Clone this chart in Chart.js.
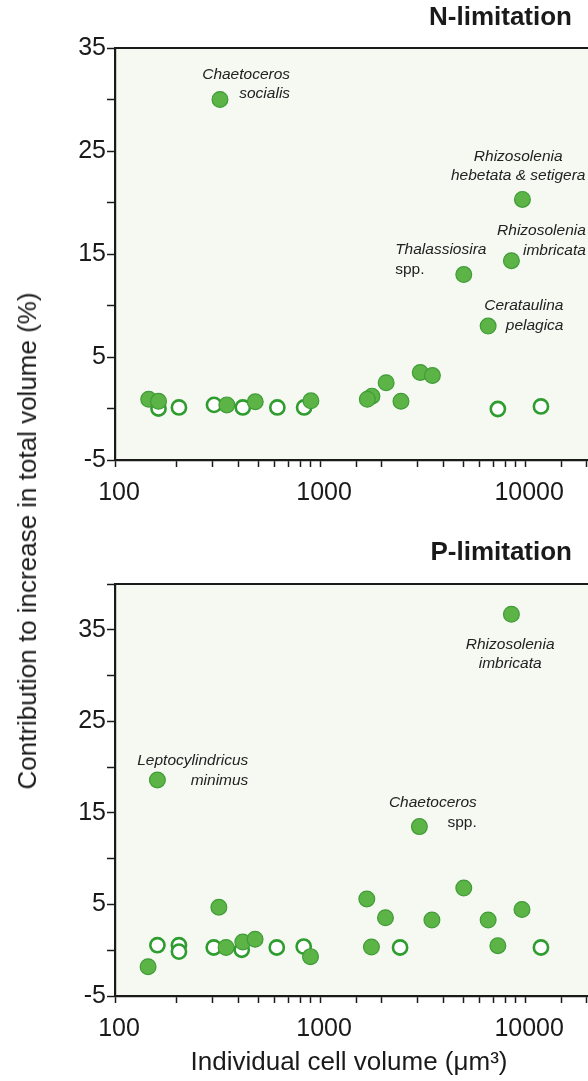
<!DOCTYPE html>
<html><head><meta charset="utf-8">
<script src="https://cdn.jsdelivr.net/npm/chart.js@4.4.1/dist/chart.umd.min.js"></script>
<style>
html,body{margin:0;padding:0;background:#fff;width:588px;height:1081px;overflow:hidden;}
#wrap{position:relative;width:588px;height:1081px;overflow:hidden;}
canvas{position:absolute;left:0;}
#c1{top:0;} #c2{top:540px;}
#ytitle{position:absolute;left:27px;top:541px;transform:translate(-50%,-50%) rotate(-90deg);font:26px "Liberation Sans",Arial,sans-serif;color:#1a1a1a;white-space:nowrap;line-height:1;}
</style></head><body>
<div id="wrap">
<canvas id="c1" width="640" height="520"></canvas>
<canvas id="c2" width="640" height="541"></canvas>
<div id="ytitle">Contribution to increase in total volume (%)</div>
</div>
<script>
// ---------- data ----------
const xTickLabels = ['100', '1000', '10000'];
const yTickLabels = ['-5', '5', '15', '25', '35'];

// N-limitation
const nFilledX = [325, 9700, 8570, 5020, 6600, 3080, 3530, 2100, 1790, 1700, 2480, 146, 163, 351, 483, 902];
const nFilledY = [30.0, 20.3, 14.35, 13.0, 8.0, 3.5, 3.2, 2.5, 1.2, 0.9, 0.7, 0.9, 0.7, 0.35, 0.65, 0.75];
const nOpenX = [163, 205, 304, 420, 619, 836, 7360, 11940];
const nOpenY = [0.0, 0.1, 0.35, 0.1, 0.1, 0.1, -0.05, 0.2];

// P-limitation
const pFilledX = [8570, 161, 3050, 5020, 1690, 321, 9650, 2084, 3510, 6600, 1780, 7360, 145, 348, 420, 482, 898];
const pFilledY = [36.7, 18.6, 13.5, 6.8, 5.6, 4.7, 4.45, 3.55, 3.3, 3.3, 0.35, 0.5, -1.8, 0.3, 0.9, 1.2, -0.7];
const pOpenX = [161, 205, 205, 303, 415, 615, 832, 2455, 11940];
const pOpenY = [0.55, 0.55, -0.15, 0.3, 0.05, 0.3, 0.4, 0.3, 0.3];

// species annotations (anchored in data units)
const nLabels = [
  {x: 714, y: 32.45, align: 'right', lines: [{t: 'Chaetoceros', i: true}, {t: 'socialis', i: true}]},
  {x: 9250, y: 24.45, align: 'center', lines: [{t: 'Rhizosolenia', i: true}, {t: 'hebetata & setigera', i: true}]},
  {x: 19770, y: 17.26, align: 'right', lines: [{t: 'Rhizosolenia', i: true}, {t: 'imbricata', i: true}]},
  {x: 2323, y: 15.39, align: 'left', lines: [{t: 'Thalassiosira', i: true}, {t: 'spp.', i: false}]},
  {x: 15380, y: 9.98, align: 'right', lines: [{t: 'Cerataulina', i: true}, {t: 'pelagica', i: true}]}
];
const pLabels = [
  {x: 8450, y: 33.4, align: 'center', lines: [{t: 'Rhizosolenia', i: true}, {t: 'imbricata', i: true}]},
  {x: 447, y: 20.67, align: 'right', lines: [{t: 'Leptocylindricus', i: true}, {t: 'minimus', i: true}]},
  {x: 5810, y: 16.09, align: 'right', lines: [{t: 'Chaetoceros', i: true}, {t: 'spp.', i: false}]}
];

// ---------- styling ----------
const FAM = '"Liberation Sans", Arial, Helvetica, sans-serif';
const INK = '#1a1a1a';

const panelPlugin = {
  id: 'panel',
  beforeDraw(chart, args, o) {
    const {ctx, chartArea: a} = chart;
    ctx.save();
    ctx.fillStyle = '#f6f9f2';
    ctx.fillRect(a.left, a.top, a.right - a.left, a.bottom - a.top);
    ctx.restore();
  },
  afterDraw(chart, args, o) {
    const {ctx, chartArea: a, scales} = chart;
    const xs = scales.x, ys = scales.y;
    ctx.save();
    ctx.strokeStyle = INK; ctx.lineWidth = 2.2;
    ctx.beginPath(); ctx.moveTo(a.left, a.top); ctx.lineTo(a.right, a.top); ctx.stroke();
    ctx.fillStyle = INK;
    ctx.textBaseline = 'middle';
    ctx.font = 'bold 26px ' + FAM;
    ctx.textAlign = 'right';
    ctx.fillText(o.title, o.titleRight, o.titleY);
    if (o.xTitle) {
      ctx.font = '26px ' + FAM;
      ctx.textAlign = 'center';
      ctx.fillText(o.xTitle, o.xTitleX, o.xTitleY);
    }
    ctx.fillStyle = '#222';
    for (const lab of o.labels) {
      const px = xs.getPixelForValue(lab.x), py = ys.getPixelForValue(lab.y);
      ctx.textAlign = lab.align;
      lab.lines.forEach((ln, k) => {
        ctx.font = (ln.i ? 'italic ' : '') + '15.5px ' + FAM;
        ctx.fillText(ln.t, px, py + k * 19.5);
      });
    }
    ctx.restore();
  }
};

function pts(xa, ya) { return xa.map((x, k) => ({x: x, y: ya[k]})); }

function makeChart(id, filled, open, yMax, padTop, xH, pluginOpts) {
  return new Chart(document.getElementById(id), {
    type: 'scatter',
    data: {
      datasets: [
        {data: filled, order: 1, pointRadius: 7.9, backgroundColor: '#5cb446', borderColor: '#3f9c37', borderWidth: 1.2},
        {data: open, order: 2, pointRadius: 7.1, backgroundColor: '#ffffff', borderColor: '#2e9c2e', borderWidth: 2.6}
      ]
    },
    options: {
      responsive: false,
      animation: false,
      devicePixelRatio: 1,
      layout: {padding: {top: padTop, right: 17, left: 0, bottom: 0}},
      plugins: {legend: {display: false}, tooltip: {enabled: false}, panel: pluginOpts},
      scales: {
        x: {
          type: 'logarithmic', min: 100, max: 30000,
          afterFit(s) { s.height = xH; },
          ticks: {autoSkip: false, maxRotation: 0, minRotation: 0, padding: 11, labelOffset: 4,
            color: INK, font: {size: 25, family: FAM},
            callback: (v) => xTickLabels.includes(String(v)) ? String(v) : ''},
          grid: {drawOnChartArea: false, tickLength: 7, tickColor: INK, tickWidth: 1.5},
          border: {color: INK, width: 2.2}
        },
        y: {
          type: 'linear', min: -5, max: yMax,
          afterFit(s) { s.width = 115; },
          ticks: {stepSize: 5, autoSkip: false, padding: 1, color: INK, font: {size: 25, family: FAM},
            callback: (v) => yTickLabels.includes(String(v)) ? String(v) : ''},
          grid: {drawOnChartArea: false, tickLength: 8, tickColor: INK, tickWidth: 1.5},
          border: {color: INK, width: 2.2}
        }
      }
    },
    plugins: [panelPlugin]
  });
}

makeChart('c1', pts(nFilledX, nFilledY), pts(nOpenX, nOpenY), 35, 48, 60,
  {title: 'N-limitation', titleRight: 572, titleY: 18, labels: nLabels});
makeChart('c2', pts(pFilledX, pFilledY), pts(pOpenX, pOpenY), 40, 44, 85,
  {title: 'P-limitation', titleRight: 572, titleY: 13, labels: pLabels,
   xTitle: 'Individual cell volume (\u03bcm\u00b3)', xTitleX: 349, xTitleY: 523});
</script>
</body></html>
